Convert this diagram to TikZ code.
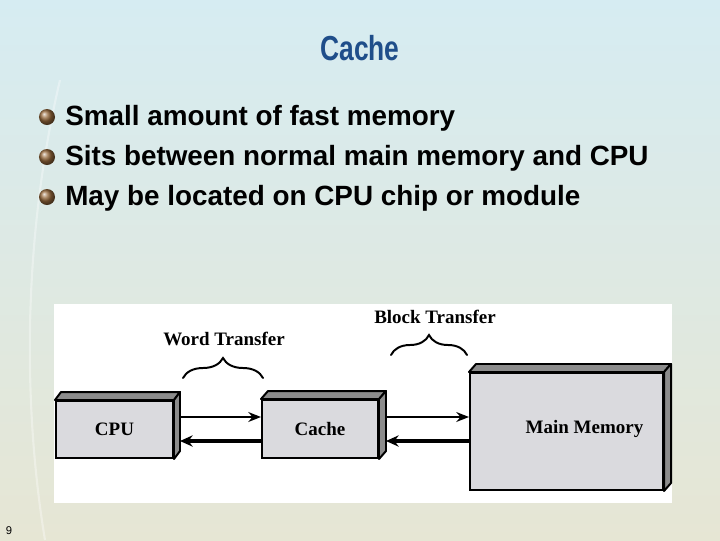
\documentclass[tikz,border=0pt]{standalone}
\usepackage{fontspec}
\setmainfont{Liberation Serif}
\newfontfamily\slidefont{Liberation Sans}
\usetikzlibrary{arrows.meta, decorations.pathreplacing, calc}
\definecolor{titleblue}{RGB}{31,78,138}
\definecolor{boxgray}{RGB}{218,218,222}
\definecolor{bevelgray}{RGB}{140,140,140}
\definecolor{bulletbrown}{RGB}{150,105,60}
% top and right faces of a box node: #1 node, #2 depth
\newcommand{\bevelfaces}[2]{%
  \filldraw[bevelgray, draw=black, line width=1.4pt, line join=round]
    (#1.north west) -- ++(#2,-8) -- ($(#1.north east)+(#2,-8)$) -- (#1.north east) -- cycle;
  \filldraw[bevelgray, draw=black, line width=1.4pt, line join=round]
    (#1.north east) -- ++(#2,-8) -- ($(#1.south east)+(#2,-8)$) -- (#1.south east) -- cycle;
}

\begin{document}
\begin{tikzpicture}[x=0.025cm, y=-0.025cm, >=Stealth,
  unitbox/.style={draw, line width=1.4pt, fill=boxgray, inner sep=0pt,
    font=\fontsize{13.5}{16}\selectfont\bfseries},
  thinarrow/.style={line width=1.4pt, -{Stealth[length=9pt, width=7pt]}},
  thickarrow/.style={line width=2.4pt, -{Stealth[length=9pt, width=8pt]}},
  bracemark/.style={decorate, decoration={brace, amplitude=0.5cm}, line width=1.4pt, line cap=round},
  bullettext/.style={anchor=base west, inner sep=0pt, font=\slidefont\fontsize{19.8}{24}\selectfont\bfseries}]
  \useasboundingbox (0,0) rectangle (720,540);
  % slide background
  \shade[top color={rgb,255:red,214;green,236;blue,242}, middle color={rgb,255:red,238;green,245;blue,245},
    bottom color={rgb,255:red,230;green,230;blue,212}] (0,0) rectangle (720,540);
  \draw[white, line width=1.5pt, opacity=0.35] (60,80) .. controls (20,250) and (25,420) .. (45,540);

  % title and bullets
  \node[font=\slidefont\fontsize{24.7}{28}\selectfont\bfseries, text=titleblue, xscale=0.76] (title) at (360,48) {Cache};
  \foreach \i/\txt in {0/Small amount of fast memory, 1/Sits between normal main memory and CPU, 2/May be located on CPU chip or module}{
    \shade[ball color=bulletbrown] (47,117+40*\i) circle (0.2cm);
    \node[bullettext] (item\i) at (65,125+40*\i) {\txt};
  }
  \node[font=\slidefont\fontsize{8}{9}\selectfont] (pageno) at (9,531) {9};

  % diagram panel
  \fill[white] (54,304) rectangle (672,503);
  \node[unitbox, minimum width=2.925cm, minimum height=1.425cm] (CPU) at (114.5,429.5) {CPU};
  \node[unitbox, minimum width=2.9cm, minimum height=1.45cm] (Cache) at (320,429) {Cache};
  \node[unitbox, minimum width=4.825cm, minimum height=2.925cm,
    label={[font=\fontsize{13.5}{16}\selectfont\bfseries, xshift=0.45cm, yshift=0.06cm]center:Main Memory}] (Main) at (566.5,431.5) {};
  \coordinate (rowA) at (0,417);
  \coordinate (rowB) at (0,441);
  \coordinate (CPUside) at ($(CPU.east)+(6,0)$);
  \coordinate (Cacheside) at ($(Cache.east)+(7,0)$);

  \draw[thinarrow] (CPUside |- rowA) -- (Cache.west |- rowA);
  \draw[thickarrow] (Cache.west |- rowB) -- (CPUside |- rowB);
  \draw[thinarrow] (Cacheside |- rowA) -- (Main.west |- rowA);
  \draw[thickarrow] (Main.west |- rowB) -- (Cacheside |- rowB);

  \bevelfaces{CPU}{6}
  \bevelfaces{Cache}{7}
  \bevelfaces{Main}{7}

  % transfer labels
  \node[font=\fontsize{13.5}{16}\selectfont\bfseries] (wordlbl) at (224,339) {Word Transfer};
  \node[font=\fontsize{13.5}{16}\selectfont\bfseries] (blocklbl) at (435,317) {Block Transfer};
  \draw[bracemark] (183,378) -- (263,378);
  \draw[bracemark] (391,355) -- (467,355);
\end{tikzpicture}
\end{document}
